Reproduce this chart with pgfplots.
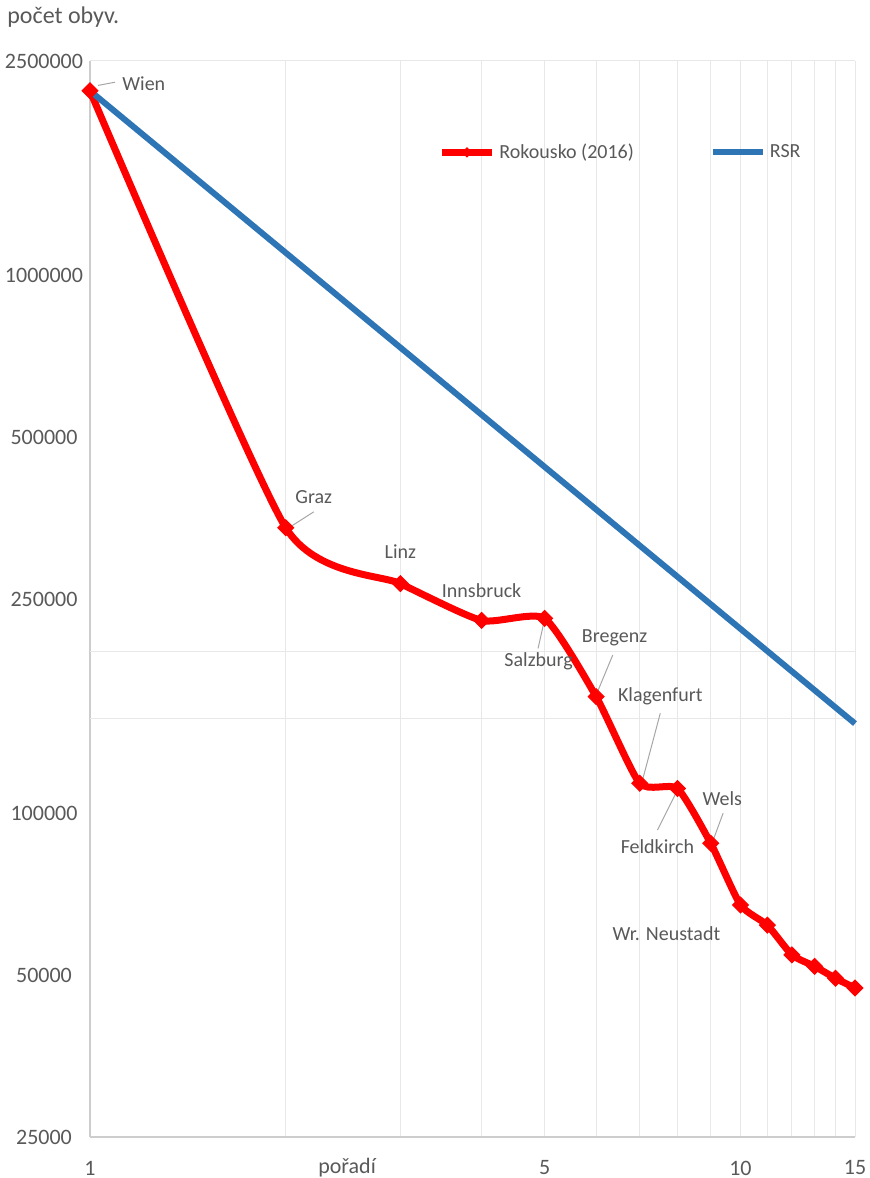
\documentclass[border=0pt]{standalone}
\usepackage{fontspec}
\setmainfont{Carlito}
\usepackage{pgfplots}
\pgfplotsset{compat=1.18}
\definecolor{txt}{HTML}{595959}
\definecolor{grd}{HTML}{E8E8E8}
\definecolor{axl}{HTML}{CDCDCD}
\definecolor{lead}{HTML}{A6A6A6}
\definecolor{rsrblue}{HTML}{2E75B6}
\newcommand{\lbl}{\fontsize{10}{12}\selectfont\color{txt}}
\begin{document}
\begin{tikzpicture}
\path[use as bounding box] (-45pt,-20.5pt) rectangle (390pt,568.5pt);
\begin{axis}[
  scale only axis,
  width=382.5pt, height=538pt,
  xmode=log, ymode=log,
  xmin=1, xmax=15, ymin=25000, ymax=2500000,
  clip=false,
  axis x line=bottom, axis y line=left,
  axis line style={-, draw=axl, line width=0.75pt},
  xtick={1,5,10,15},
  xticklabels={1,5,10,15},
  minor xtick={2,3,4,6,7,8,9,11,12,13,14},
  ytick={25000,50000,100000,250000,500000,1000000,2500000},
  yticklabels={25000,50000,100000,250000,500000,1000000,2500000},
  extra y ticks={150000,200000,2500000},
  extra y tick labels={},
  extra y tick style={grid=major, major tick length=0pt},
  major tick length=0pt, minor tick length=0pt,
  xmajorgrids, xminorgrids,
  grid style={draw=grd, line width=0.5pt},
  major grid style={draw=grd, line width=0.5pt},
  minor grid style={draw=grd, line width=0.5pt},
  tick label style={font=\fontsize{11}{13}\selectfont\color{txt}},
  yticklabel style={anchor=center, xshift=-23pt},
  xticklabel style={anchor=center, yshift=-15.5pt},
  legend columns=2,
  legend style={at={(rel axis cs:0.455,0.915)}, anchor=west, draw=none, fill=none,
    inner sep=0pt, font=\lbl,
    /tikz/every even column/.append style={column sep=36pt}},
  legend image code/.code={\draw[mark repeat=2,mark phase=2,mark size=1.6pt] plot coordinates {(0pt,0pt)(12.5pt,0pt)(25pt,0pt)};},
]
\addplot[red, line width=3.5pt, smooth, tension=0.35,
  mark=square*, mark size=2.8pt, mark options={solid, rotate=45, line width=0.5pt, fill=red}]
  coordinates {
  (1,2200000) (2,339000) (3,267000) (4,228000) (5,230000)
  (6,164600) (7,113600) (8,111100) (9,87900) (10,67500)
  (11,61900) (12,54500) (13,51900) (14,49300) (15,47300)
  };
\addlegendentry{Rokousko (2016)}
\addplot[rsrblue, line width=3pt] coordinates {
  (1,2200000) (2,1100000) (3,733333) (4,550000) (5,440000)
  (6,366667) (7,314286) (8,275000) (9,244444) (10,220000)
  (11,200000) (12,183333) (13,169231) (14,157143) (15,146667)
  };
\addlegendentry{RSR}
% data labels
\draw[lead, line width=0.5pt] (axis cs:1,2200000) ++(4pt,2.7pt) -- ++(8.5pt,1.6pt);
\node[anchor=west, font=\lbl, inner sep=0pt] at (axis cs:1,2200000) [xshift=16pt, yshift=3.5pt] {Wien};
\draw[lead, line width=0.5pt] (axis cs:2,339000) ++(1.5pt,0pt) -- ++(12.5pt,8pt);
\node[font=\lbl, inner sep=0pt] at (axis cs:2,339000) [xshift=14pt, yshift=15.5pt] {Graz};
\node[font=\lbl, inner sep=0pt] at (axis cs:3,267000) [yshift=16pt] {Linz};
\node[font=\lbl, inner sep=0pt] at (axis cs:4,228000) [yshift=15pt] {Innsbruck};
\draw[lead, line width=0.5pt] (axis cs:5,230000) ++(-0.5pt,-2.5pt) -- ++(-2.8pt,-12.5pt);
\node[font=\lbl, inner sep=0pt] at (axis cs:5,230000) [xshift=-3pt, yshift=-21.5pt] {Salzburg};
\draw[lead, line width=0.5pt] (axis cs:6,164600) ++(0pt,0.8pt) -- ++(8.3pt,20pt);
\node[font=\lbl, inner sep=0pt] at (axis cs:6,164600) [xshift=9.2pt, yshift=29.5pt] {Bregenz};
\draw[lead, line width=0.5pt] (axis cs:7,113600) ++(1.2pt,0.8pt) -- ++(9.1pt,34.2pt);
\node[font=\lbl, inner sep=0pt] at (axis cs:7,113600) [xshift=10.3pt, yshift=43.3pt] {Klagenfurt};
\draw[lead, line width=0.5pt] (axis cs:8,111100) ++(0pt,-0.8pt) -- ++(-10pt,-20pt);
\node[font=\lbl, inner sep=0pt] at (axis cs:8,111100) [xshift=-10pt, yshift=-29.2pt] {Feldkirch};
\draw[lead, line width=0.5pt] (axis cs:9,87900) ++(0.5pt,-0.5pt) -- ++(5.7pt,15.5pt);
\node[font=\lbl, inner sep=0pt] at (axis cs:9,87900) [xshift=5.8pt, yshift=22.5pt] {Wels};
\node[font=\lbl, inner sep=0pt] at (axis cs:10,67500) [xshift=-37pt, yshift=-14.2pt] {Wr. Neustadt};
% titles
\node[font=\fontsize{11}{13}\selectfont\color{txt}, inner sep=0pt] at (rel axis cs:0.336,0) [yshift=-15.5pt] {pořadí};
\node[anchor=west, font=\fontsize{12}{14}\selectfont\color{txt}, inner sep=0pt] at (rel axis cs:0,1) [xshift=-41.5pt, yshift=22pt] {počet obyv.};
\end{axis}
\end{tikzpicture}
\end{document}
